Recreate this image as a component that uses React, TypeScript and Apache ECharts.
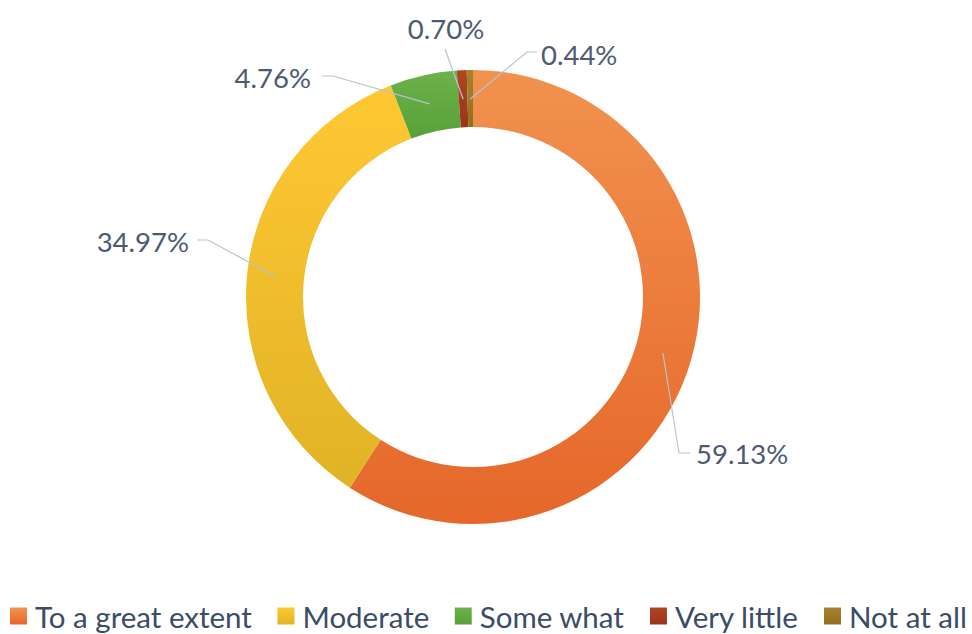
import React, { useEffect, useRef } from "react";
import * as echarts from "echarts";

const categories = ["To a great extent", "Moderate", "Some what", "Very little", "Not at all"];
const values = [59.13, 34.97, 4.76, 0.7, 0.44];
const colorTop = ["#F2924F", "#FFC833", "#6DB24C", "#B0461F", "#A8822C"];
const colorBottom = ["#E5672A", "#E0B326", "#57A037", "#9A3318", "#926E1E"];

const CENTER = [473, 297];
const R_IN = 170;
const R_OUT = 227;
const R_LINE = 198;

// label placement (x, y, align) and leader-line bend/end points
const LABEL_LAYOUT = [
  { x: 696, y: 453, align: "left", elbow: [679, 453], end: [690, 453] },
  { x: 189, y: 241, align: "right", elbow: [208, 240], end: [197, 240] },
  { x: 311, y: 77, align: "right", elbow: [333, 76], end: [322, 76] },
  { x: 446, y: 28, align: "center", elbow: null, end: [445, 49] },
  { x: 541, y: 54, align: "left", elbow: [527, 52], end: [537, 52] },
];

function midRingPoint(i: number) {
  const total = values.reduce((a, b) => a + b, 0);
  let cum = 0;
  for (let k = 0; k < i; k++) cum += values[k];
  cum += values[i] / 2;
  const ang = (cum / total) * Math.PI * 2;
  return [CENTER[0] + R_LINE * Math.sin(ang), CENTER[1] - R_LINE * Math.cos(ang)];
}

export default function App() {
  const ref = useRef<HTMLDivElement>(null);
  useEffect(() => {
    document.body.style.margin = "0";
    const chart = echarts.init(ref.current!, null, { renderer: "svg" });
    const data = categories.map((name, i) => ({
      name,
      value: values[i],
      itemStyle: {
        color: new echarts.graphic.LinearGradient(0, 0, 0, 1, [
          { offset: 0, color: colorTop[i] },
          { offset: 1, color: colorBottom[i] },
        ]),
      },
    }));
    const leaderLines = values.map((_, i) => {
      const L = LABEL_LAYOUT[i];
      const start = midRingPoint(i);
      const pts = L.elbow ? [start, L.elbow, L.end] : [start, L.end];
      return {
        type: "polyline",
        z: 100,
        silent: true,
        shape: { points: pts },
        style: { stroke: "#B8C3D1", lineWidth: 1.2, fill: null },
      };
    });
    chart.setOption({
      animation: false,
      backgroundColor: "#ffffff",
      legend: {
        show: true,
        top: 601,
        left: 10,
        width: 1100,
        orient: "horizontal",
        icon: "rect",
        itemWidth: 17,
        itemHeight: 17,
        itemGap: 25.5,
        padding: 0,
        textStyle: {
          fontFamily: "Lato",
          fontSize: 29.5,
          color: "#3B4C66",
          padding: [0, 0, 0, 3],
        },
        data: categories,
      },
      graphic: leaderLines,
      series: [
        {
          type: "pie",
          center: CENTER,
          radius: [R_IN, R_OUT],
          startAngle: 90,
          clockwise: true,
          silent: true,
          avoidLabelOverlap: false,
          data,
          label: {
            show: true,
            position: "outside",
            formatter: (p: any) => `${p.value.toFixed(2)}%`,
            fontFamily: "Lato",
            fontSize: 27.5,
            color: "#4D5B72",
          },
          labelLine: { show: false },
          labelLayout: (p: any) => {
            const L = LABEL_LAYOUT[p.dataIndex];
            return { x: L.x, y: L.y, align: L.align, verticalAlign: "middle" };
          },
        },
      ],
    });
    return () => chart.dispose();
  }, []);
  return (
    <div
      ref={ref}
      style={{ position: "absolute", left: 0, top: 0, width: 972, height: 634 }}
    />
  );
}
